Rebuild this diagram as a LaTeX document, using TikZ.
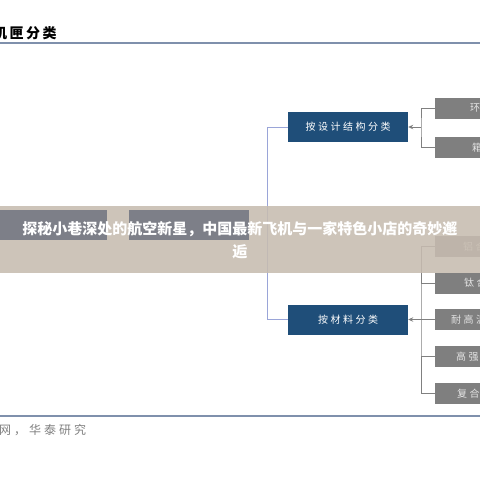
\documentclass[tikz,border=0pt]{standalone}
\usepackage{fontspec}
\newfontfamily\cjk{Noto Sans CJK SC}
\newfontfamily\cjkbox[LetterSpace=25]{Noto Sans CJK SC}
\newfontfamily\cjktitle[LetterSpace=18]{Noto Sans CJK SC}
\usetikzlibrary{arrows.meta}
\definecolor{boxblue}{HTML}{1F4E79}
\definecolor{boxgray}{HTML}{7F7F7F}
\definecolor{graytxt}{HTML}{E4E4E4}
\definecolor{conngray}{HTML}{808080}
\definecolor{lblue}{HTML}{9AA5D8}
\definecolor{rulec}{HTML}{7F90AC}
\definecolor{bannerc}{HTML}{C7BCB0}
\definecolor{darkbox}{HTML}{6F7480}
\definecolor{srcgray}{HTML}{808080}
\begin{document}
\begin{tikzpicture}[x=1pt,y=-1pt,
  bluebox/.style={fill=boxblue, text=white, minimum width=120pt, minimum height=30pt, inner sep=0pt, font=\cjkbox\fontsize{10}{12}\selectfont},
  graybox/.style={fill=boxgray, anchor=west, minimum width=112pt, minimum height=21pt, inner sep=0pt},
  graylabel/.style={text=graytxt, anchor=west, inner sep=0pt, font=\cjkbox\fontsize{10}{12}\selectfont},
  conn/.style={draw=conngray, line width=0.9pt},
  lconn/.style={draw=lblue, line width=0.9pt},
  arrowc/.style={conn, -{Stealth[length=5pt,width=4.5pt]}},
  rule/.style={draw=rulec, line width=1.8pt}]
\useasboundingbox (0,0) rectangle (480,480);
\clip (0,0) rectangle (480,480);
\fill[white] (0,0) rectangle (480,480);

% title and rules
\node[anchor=west, inner sep=0pt, font=\cjktitle\bfseries\fontsize{14}{16}\selectfont] (title) at (-7,33) {机匣分类};
\coordinate (r1l) at (0,43);
\coordinate (r1r) at (480,43);
\draw[rule] (r1l) -- (r1r);
\coordinate (r2l) at (0,416);
\coordinate (r2r) at (480,416);
\draw[rule] (r2l) -- (r2r);
\node[anchor=west, inner sep=0pt, text=srcgray, font=\cjkbox\fontsize{12}{14}\selectfont] (src) at (-1,430) {网，华泰研究};

% blue boxes
\node[bluebox] (b1) at (348,127) {按设计结构分类};
\node[bluebox] (b2) at (348,319.5) {按材料分类};
\draw[lconn] (b1.west) -- ++(-20,0) |- (b2.west);

% upper gray boxes
\node[graybox] (g1) at (435,108.5) {};
\node[graybox] (g2) at (435,147.5) {};
\node[graylabel] (t1) at (470,108.5) {环};
\node[graylabel] (t2) at (472,147.5) {箱};
\coordinate (j1) at (421,127);
\draw[conn] (g1.west) -| (j1) |- (g2.west);
\draw[arrowc] (j1) -- (b1.east);

% lower gray boxes
\node[graybox] (g3) at (435,246.5) {};
\node[graybox] (g4) at (435,283) {};
\node[graybox] (g5) at (435,319.5) {};
\node[graybox] (g6) at (435,356.5) {};
\node[graybox] (g7) at (435,393.5) {};
\node[graylabel] (t3) at (463,246.5) {铝合};
\node[graylabel] (t4) at (464,283) {钛合};
\node[graylabel] (t5) at (451,319.5) {耐高温};
\node[graylabel] (t6) at (456,356.5) {高强};
\node[graylabel] (t7) at (457,393.5) {复合};
\coordinate (j2) at (421,319.5);
\draw[conn] (g3.west) -| (j2) |- (g7.west);
\draw[conn] (g4.west) -- (g4.west -| j2);
\draw[conn] (g6.west) -- (g6.west -| j2);
\draw[arrowc] (g5.west) -- (b2.east);

% overlay banner
\fill[bannerc, opacity=0.88] (0,206) rectangle (480,273);
\fill[darkbox, opacity=0.85] (0,210) rectangle (107,240);
\fill[darkbox, opacity=0.85] (129,210) rectangle (249,240);
\node[text=white, align=center, inner sep=0pt, font=\cjk\bfseries\fontsize{15}{23}\selectfont] (banner) at (240,240) {探秘小巷深处的航空新星，中国最新飞机与一家特色小店的奇妙邂\\逅};
\end{tikzpicture}
\end{document}
